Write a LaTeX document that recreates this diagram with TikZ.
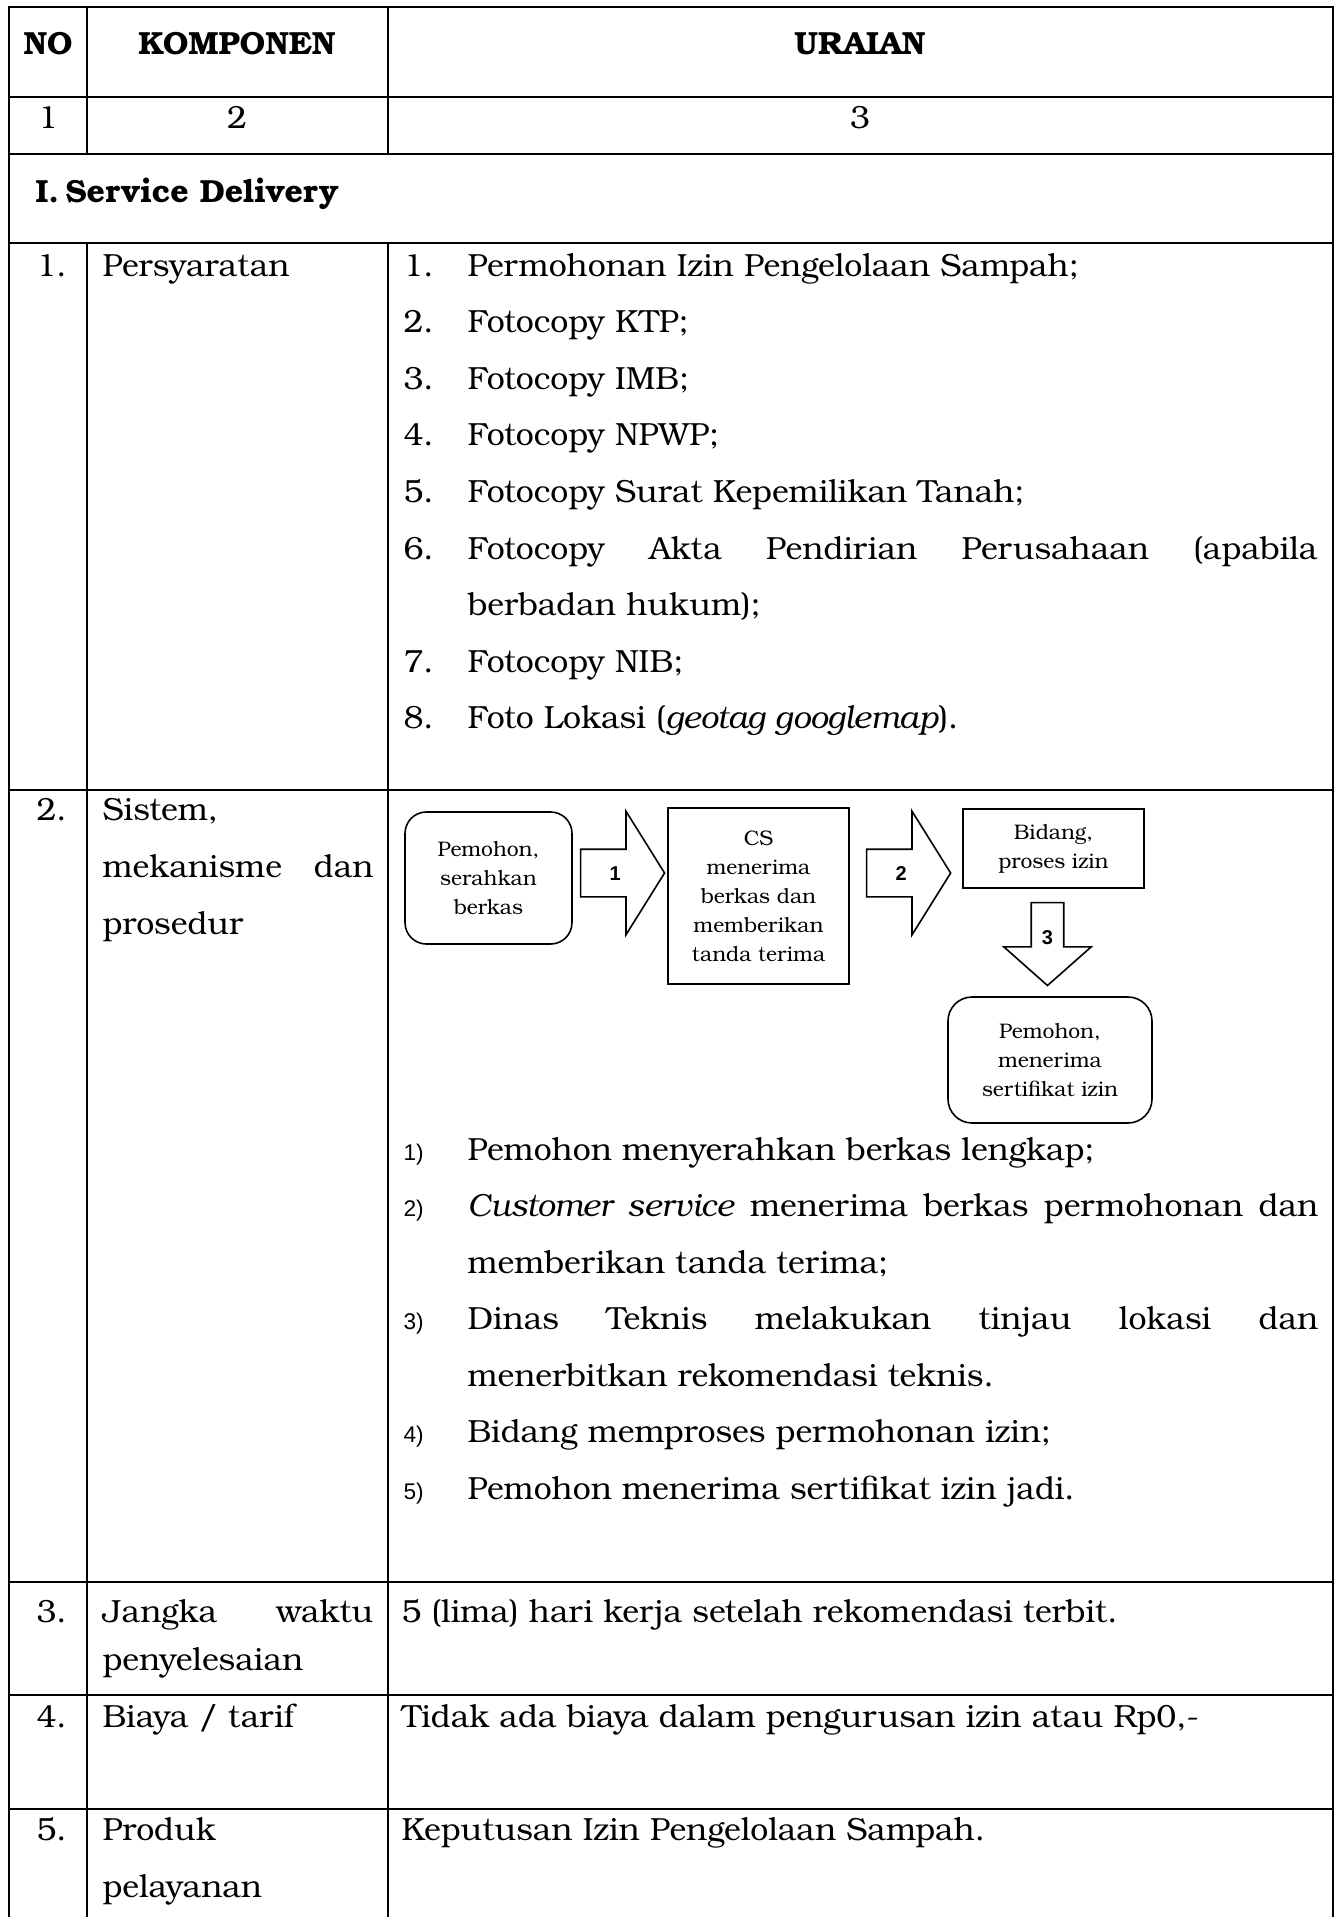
\documentclass[tikz,border=0pt,12pt]{standalone}
\usepackage{fontspec}
\setmainfont{texgyrebonum}[Extension=.otf,UprightFont=*-regular,BoldFont=*-bold,ItalicFont=*-italic,BoldItalicFont=*-bolditalic]
\setsansfont{Liberation Sans}
\usetikzlibrary{shapes.arrows,calc}
\newcommand{\flowfont}{\fontsize{7.9}{10.9}\selectfont}
\begin{document}
\begin{tikzpicture}[x=0.375pt,y=-0.375pt,
	grid/.style={line width=1pt,line cap=rect},
	txt/.style={anchor=base west,inner sep=0pt,font=\fontsize{12}{14}\selectfont},
	mid/.style={anchor=base,inner sep=0pt,font=\fontsize{12}{14}\selectfont},
	hdr/.style={anchor=base,inner sep=0pt,font=\fontsize{12}{14}\selectfont\bfseries},
	lnum/.style={anchor=base west,inner sep=0pt,font=\sffamily\fontsize{8.5}{10}\selectfont},
	roundbox/.style={draw,line width=0.6pt,rounded corners=8pt,align=center,font=\flowfont,inner sep=0pt},
	sqbox/.style={draw,line width=0.6pt,align=center,font=\flowfont,inner sep=0pt},
	blockarrow/.style={draw,line width=0.6pt,single arrow,anchor=tail,text height=5.4pt,text depth=0pt,font=\sffamily\bfseries\fontsize{7.5}{9}\selectfont}]
	\useasboundingbox (0,0) rectangle (1339,1917);
	
	%table lines
	\foreach \y in {7,97,154,243,790,1582,1695,1809}{
		\draw[grid] (9,\y)--(1333,\y);
	}
	\foreach \x in {9,1333}{
		\draw[grid] (\x,7)--(\x,1917);
	}
	\foreach \x in {87,388}{
		\draw[grid] (\x,7)--(\x,154);
		\draw[grid] (\x,243)--(\x,1917);
	}
	
	%header
	\node[hdr] (hno) at (48,54){NO};
	\node[hdr] (hkomp) at (237,54){KOMPONEN};
	\node[hdr] (hurai) at (860,54){URAIAN};
	\node[mid] (col1) at (48,128){1};
	\node[mid] (col2) at (237,128){2};
	\node[mid] (col3) at (860,128){3};
	\node[txt,font=\fontsize{12}{14}\selectfont\bfseries] (sd) at (35,202){I.\hspace{0.2em}Service Delivery};
	
	%persyaratan
	\node[txt] (no1) at (36,276){1.};
	\node[txt] (komp1) at (102,276){Persyaratan};
	\foreach \k/\n/\t in {0/1/{Permohonan Izin Pengelolaan Sampah;}, 1/2/{Fotocopy KTP;}, 2/3/{Fotocopy IMB;}, 3/4/{Fotocopy NPWP;}, 4/5/{Fotocopy Surat Kepemilikan Tanah;}, 5/6/{\makebox[318.75pt][s]{Fotocopy Akta Pendirian Perusahaan (apabila}}, 7/7/{Fotocopy NIB;}, 8/8/{Foto Lokasi (\textit{geotag googlemap}).}}{
		\node[txt] (syn\n) at (403,{276+56.6*\k}){\n.};
		\node[txt] (syt\n) at (467,{276+56.6*\k}){\t};
	}
	\node[txt] (syt6b) at (467,{276+56.6*6}){berbadan hukum);};
	
	%sistem, mekanisme dan prosedur
	\node[txt] (no2) at (36,820){2.};
	\node[txt] (komp2a) at (102,820){Sistem,};
	\node[txt] (komp2b) at (102,877){\makebox[101.6pt][s]{mekanisme dan}};
	\node[txt] (komp2c) at (102,934){prosedur};
	
	\node[roundbox,minimum width=62.6pt,minimum height=49.5pt] (pem) at (488.5,878){Pemohon,\\serahkan\\berkas};
	\node[sqbox,minimum width=67.9pt,minimum height=66pt] (cs) at (758.5,896){CS\\menerima\\berkas dan\\memberikan\\tanda terima};
	\node[sqbox,minimum width=67.9pt,minimum height=29.6pt] (bid) at (1053.5,848.5){Bidang,\\proses izin};
	\node[roundbox,rounded corners=9pt,minimum width=76.5pt,minimum height=47.25pt] (terima) at (1050,1060){Pemohon,\\menerima\\sertifikat izin};
	
	\node[blockarrow,inner xsep=0pt,inner ysep=5.925pt,minimum height=31.5pt,minimum width=45.75pt,single arrow head extend=14.25pt,single arrow tip angle=116] (a1) at ($(pem.east)+(7,-5)$){1};
	\node[blockarrow,inner xsep=0pt,inner ysep=5.925pt,minimum height=31.5pt,minimum width=45.75pt,single arrow head extend=14.25pt,single arrow tip angle=116] (a2) at ($(cs.east)+(16,-23)$){2};
	\node[blockarrow,shape border rotate=270,text width=4.2pt,align=center,inner xsep=3.7pt,inner ysep=0pt,minimum height=31.1pt,minimum width=32.25pt,single arrow head extend=10.3pt,single arrow tip angle=97] (a3) at ($(bid.south)+(-6,13)$){3};
	
	\foreach \k/\n/\t in {0/1/{Pemohon menyerahkan berkas lengkap;}, 1/2/{\makebox[319pt][s]{\textit{Customer service} menerima berkas permohonan dan}}, 3/3/{\makebox[319pt][s]{Dinas Teknis melakukan tinjau lokasi dan}}, 5/4/{Bidang memproses permohonan izin;}, 6/5/{Pemohon menerima sertifikat izin jadi.}}{
		\node[lnum] (prn\n) at (403,{1160+56.5*\k}){\n)};
		\node[txt] (prt\n) at (467,{1160+56.5*\k}){\t};
	}
	\node[txt] (prt2b) at (467,{1160+56.5*2}){memberikan tanda terima;};
	\node[txt] (prt3b) at (467,{1160+56.5*4}){menerbitkan rekomendasi teknis.};
	
	%jangka waktu, biaya, produk
	\node[txt] (no3) at (36,1622){3.};
	\node[txt] (komp3a) at (102,1622){\makebox[101.6pt][s]{Jangka waktu}};
	\node[txt] (komp3b) at (102,1670){penyelesaian};
	\node[txt] (urai3) at (401,1622){5 (lima) hari kerja setelah rekomendasi terbit.};
	
	\node[txt] (no4) at (36,1727){4.};
	\node[txt] (komp4) at (102,1727){Biaya / tarif};
	\node[txt] (urai4) at (401,1727){Tidak ada biaya dalam pengurusan izin atau Rp0,-};
	
	\node[txt] (no5) at (36,1840){5.};
	\node[txt] (komp5a) at (102,1840){Produk};
	\node[txt] (komp5b) at (102,1897){pelayanan};
	\node[txt] (urai5) at (401,1840){Keputusan Izin Pengelolaan Sampah.};
\end{tikzpicture}
\end{document}
